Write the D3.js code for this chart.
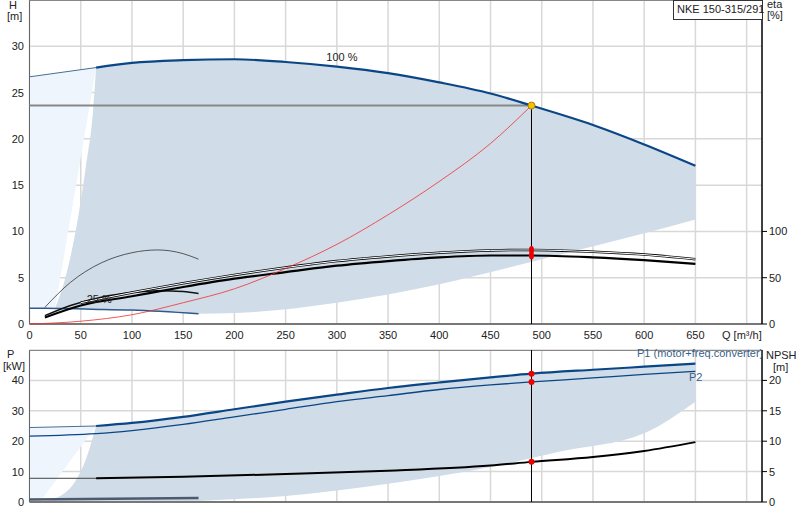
<!DOCTYPE html><html><head><meta charset="utf-8"><script src="https://cdn.jsdelivr.net/npm/d3@7"></script>
<style>body{margin:0;background:#fff}text{font-family:"Liberation Sans",Arial,sans-serif;font-size:11px;fill:#222}</style></head><body><svg id="c" width="800" height="520"></svg><script>
const qTicks=[0,50,100,150,200,250,300,350,400,450,500,550,600,650];
const hTicks=[0,5,10,15,20,25,30];
const etaTicks=[0,50,100];
const pTicks=[0,10,20,30,40];
const npshTicks=[0,5,10,15,20];
const h100Ext=[[0,26.7],[65,27.7]];
const h100=[[65,27.7],[100,28.2],[150,28.5],[200,28.6],[250,28.3],[300,27.8],[350,27.1],[400,26.1],[450,24.9],[490,23.6],[550,21.5],[600,19.4],[650,17.1]];
const h25=[[0,1.7],[15,1.7],[60,1.6],[100,1.5],[165,1.1]];
const areaLow=[[165,1.1],[220,1.3],[300,2.3],[400,4.3],[500,7],[600,9.8],[650,11.3]];
const areaLeft=[[25,1.7],[35,5],[45,10],[55,17],[62,23],[65,27.7]];
const eta25=[[15,1.8],[40,4.5],[70,6.6],[100,7.7],[125,8.0],[150,7.6],[165,7.0]];
const eta25b=[[15,0.9],[40,2.0],[70,2.9],[100,3.4],[125,3.6],[150,3.5],[165,3.3]];
const etaA=[[50,2.3],[100,3.4],[150,4.4],[200,5.3],[250,6.1],[300,6.8],[350,7.3],[400,7.7],[450,7.95],[490,8.0],[550,7.8],[600,7.5],[650,7.0]];
const etaB=[[15,0.7],[50,2.0],[100,3.0],[150,4.0],[200,4.9],[250,5.6],[300,6.3],[350,6.8],[400,7.2],[450,7.4],[490,7.4],[550,7.2],[600,6.9],[650,6.5]];
const sys=[[0,0],[50,0.3],[100,1.0],[150,2.3],[200,3.8],[250,6.0],[300,8.6],[350,11.8],[400,15.4],[450,19.5],[490,23.6]];
const p1Ext=[[0,24.5],[65,25]];
const p1=[[65,25],[100,26],[150,28],[200,30.5],[250,33],[300,35.3],[350,37.5],[400,39.3],[450,41],[490,42.2],[550,43.5],[600,44.5],[650,45.5]];
const p2=[[0,21.7],[65,22.5],[100,23.5],[150,25.5],[200,28],[250,30.5],[300,33],[350,35],[400,37],[450,38.5],[490,39.5],[550,40.8],[600,42],[650,43]];
const npshExt=[[0,7.8],[65,7.8]];
const npsh=[[65,7.8],[150,8.3],[250,9.2],[350,10.3],[450,12],[490,13.2],[550,14.8],[600,16.8],[650,19.7]];
const pLow=[[165,0.3],[250,2],[350,6],[450,11.5],[518,16.6],[600,22.6],[650,33]];
const pLeft=[[10,0],[30,2],[45,7],[55,14],[65,25]];
const p25=[[0,0.8],[165,1.3]];
const op=490;

const svg=d3.select("#c");
const x=d3.scaleLinear().domain([0,715]).range([29.5,762]);
const y=d3.scaleLinear().domain([0,35]).range([324,0]);
const yp=d3.scaleLinear().domain([0,50]).range([502,350]);
const L=(ys,c)=>d3.line().x(d=>x(d[0])).y(d=>ys(d[1])).curve(c||d3.curveMonotoneX);
const grid="#d8d8d8";
function frame(ys,t0,b0,ticks){
  qTicks.concat([700]).forEach(q=>svg.append("line").attr("x1",x(q)).attr("x2",x(q)).attr("y1",t0).attr("y2",b0).attr("stroke",grid).attr("stroke-width",1.5));
  ticks.forEach(t=>svg.append("line").attr("x1",x(0)).attr("x2",x(715)).attr("y1",ys(t)).attr("y2",ys(t)).attr("stroke",grid).attr("stroke-width",1.5));
}
frame(y,0,324,hTicks.concat([35]));
frame(yp,350,502,pTicks.concat([50]));
svg.append("path").attr("d",L(y,d3.curveLinear)([[0,1.7],[25,1.7],[65,27.7],[0,26.7]])).attr("fill","#eef5fc");
svg.append("path").attr("d",L(y)(areaLeft)+"L"+L(y)(h100).slice(1)+"L"+L(y)(areaLow.slice().reverse()).slice(1)+"L"+L(y)(h25.slice(2).reverse()).slice(1)+"Z").attr("fill","#d0dce7");
svg.append("path").attr("d",L(yp,d3.curveLinear)([[0,0],[10,0],[65,25],[0,24.5]])).attr("fill","#eef5fc");
svg.append("path").attr("d",L(yp)(pLeft)+"L"+L(yp)(p1).slice(1)+"L"+L(yp)(pLow.slice().reverse()).slice(1)+"L"+x(10)+","+yp(0)+"Z").attr("fill","#d0dce7");
const ax=svg.append("g");
ax.append("line").attr("x1",x(0)).attr("x2",x(0)).attr("y1",0).attr("y2",324).attr("stroke","#666");
ax.append("line").attr("x1",x(0)).attr("x2",x(715)).attr("y1",324).attr("y2",324).attr("stroke","#777").attr("stroke-width",2);
ax.append("line").attr("x1",x(0)).attr("x2",x(715)).attr("y1",0.5).attr("y2",0.5).attr("stroke","#888");
ax.append("line").attr("x1",x(715)).attr("x2",x(715)).attr("y1",0).attr("y2",324).attr("stroke","#000").attr("stroke-width",1.5);
ax.append("line").attr("x1",x(0)).attr("x2",x(0)).attr("y1",350).attr("y2",502).attr("stroke","#666");
ax.append("line").attr("x1",x(0)).attr("x2",x(715)).attr("y1",502).attr("y2",502).attr("stroke","#777").attr("stroke-width",2);
ax.append("line").attr("x1",x(0)).attr("x2",x(715)).attr("y1",350.5).attr("y2",350.5).attr("stroke","#888");
ax.append("line").attr("x1",x(715)).attr("x2",x(715)).attr("y1",350).attr("y2",502).attr("stroke","#000").attr("stroke-width",1.5);
hTicks.forEach(t=>svg.append("text").attr("x",24).attr("y",y(t)+4).attr("text-anchor","end").text(t));
pTicks.forEach(t=>svg.append("text").attr("x",24).attr("y",yp(t)+4).attr("text-anchor","end").text(t));
qTicks.forEach(t=>svg.append("text").attr("x",x(t)).attr("y",339).attr("text-anchor","middle").text(t));
svg.append("text").attr("x",722).attr("y",339).text("Q [m³/h]");
const ye=d3.scaleLinear().domain([0,350]).range([324,0]);
etaTicks.forEach(t=>{svg.append("line").attr("x1",762).attr("x2",767).attr("y1",ye(t)).attr("y2",ye(t)).attr("stroke","#000");svg.append("text").attr("x",769).attr("y",ye(t)+4).text(t);});
const yn=d3.scaleLinear().domain([0,25]).range([502,350]);
npshTicks.forEach(t=>{svg.append("line").attr("x1",762).attr("x2",767).attr("y1",yn(t)).attr("y2",yn(t)).attr("stroke","#000");svg.append("text").attr("x",769).attr("y",yn(t)+4).text(t);});
svg.append("text").attr("x",9).attr("y",9).text("H");
svg.append("text").attr("x",7).attr("y",20).text("[m]");
svg.append("text").attr("x",767).attr("y",8).text("eta");
svg.append("text").attr("x",767).attr("y",19).text("[%]");
svg.append("text").attr("x",7).attr("y",358).text("P");
svg.append("text").attr("x",3).attr("y",370).text("[kW]");
svg.append("text").attr("x",766).attr("y",359).text("NPSH");
svg.append("text").attr("x",773).attr("y",371).text("[m]");
svg.append("rect").attr("x",673.5).attr("y",0.5).attr("width",89).attr("height",19).attr("fill","#fff").attr("stroke","#333");
svg.append("text").attr("x",677).attr("y",13).text("NKE 150-315/291");
svg.append("text").attr("x",637).attr("y",357).attr("style","fill:#3a5f8a").text("P1 (motor+freq.converter)");
svg.append("text").attr("x",689).attr("y",381).attr("style","fill:#3a5f8a").text("P2");
const P=(d,ys,c,w,col)=>svg.append("path").attr("d",L(ys)(d)).attr("fill","none").attr("stroke",col).attr("stroke-width",w);
svg.append("line").attr("x1",x(0)).attr("x2",x(op)).attr("y1",y(23.6)).attr("y2",y(23.6)).attr("stroke","#888").attr("stroke-width",2);
P(h100Ext,y,0,1,"#4a6e96");P(h100,y,0,2.2,"#0a4686");
P(h25,y,0,1.5,"#2d5a8c");
P(eta25,y,0,0.8,"#333");P(eta25b,y,0,1.5,"#111");
P(etaA,y,0,2.5,"#000");P(etaA,y,0,1,"#fff");P(etaB,y,0,2.2,"#000");
P(sys,y,0,0.8,"#f03030");
svg.append("line").attr("x1",x(op)).attr("x2",x(op)).attr("y1",y(23.6)).attr("y2",324).attr("stroke","#000");
svg.append("line").attr("x1",x(op)).attr("x2",x(op)).attr("y1",350).attr("y2",502).attr("stroke","#000");
P(p1Ext,yp,0,1,"#4a6e96");P(p1,yp,0,2.2,"#0a4686");P(p2,yp,0,1.3,"#0a4686");
P(npshExt,yp,0,1,"#444");P(npsh,yp,0,2,"#000");
P(p25,yp,0,2.5,"#4a5a70");
svg.append("circle").attr("cx",x(op)).attr("cy",y(23.6)).attr("r",3.5).attr("fill","#f5c000").attr("stroke","#b08000");
[8.0,7.4].forEach(v=>svg.append("ellipse").attr("cx",x(op)).attr("cy",y(v)).attr("rx",2.5).attr("ry",4).attr("fill","#e00"));
[42.2,39.5,13.2].forEach(v=>svg.append("circle").attr("cx",x(op)).attr("cy",yp(v)).attr("r",3).attr("fill","#e00"));
svg.append("text").attr("x",x(305)).attr("y",y(28.3)-1).attr("text-anchor","middle").text("100 %");
svg.append("text").attr("x",x(68)).attr("y",y(2.3)).attr("text-anchor","middle").text("25 %");
</script></body></html>
